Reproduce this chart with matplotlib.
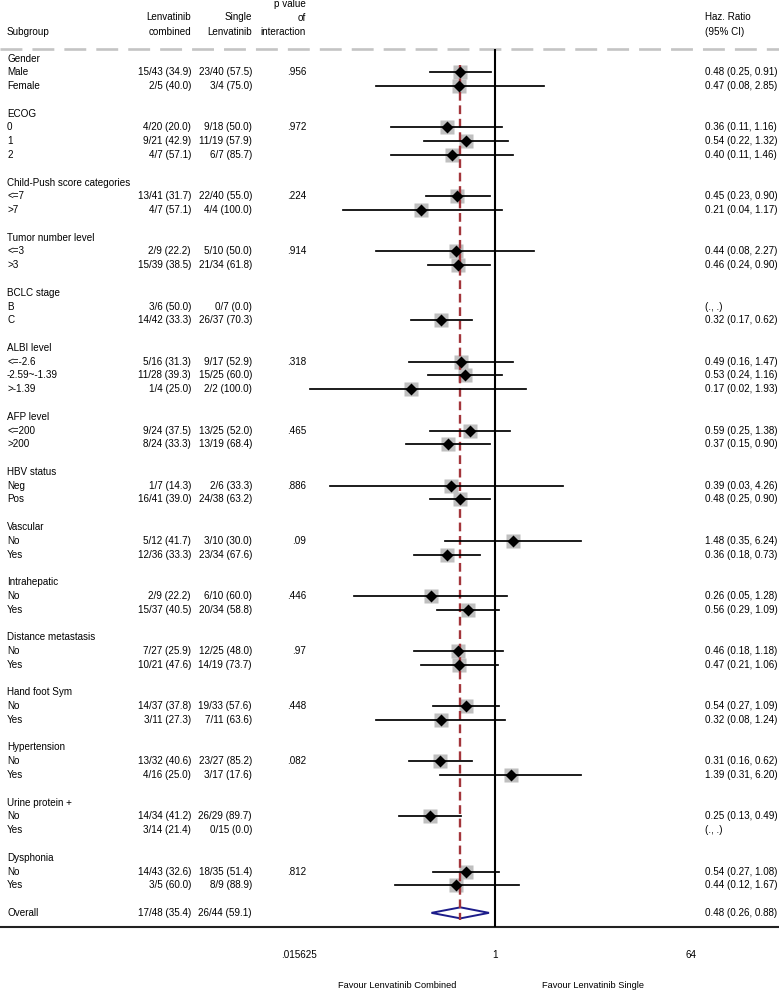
#!/usr/bin/env python3
# Forest plot: hazard ratios by subgroup, Lenvatinib combined vs single.

import matplotlib
matplotlib.use("Agg")
import matplotlib.pyplot as plt
from matplotlib.patches import Polygon
from matplotlib.transforms import blended_transform_factory

# --- Data ---
GROUP_NAMES = [
    "Gender", "ECOG", "Child-Push score categories", "Tumor number level",
    "BCLC stage", "ALBI level", "AFP level", "HBV status", "Vascular",
    "Intrahepatic", "Distance metastasis", "Hand foot Sym", "Hypertension",
    "Urine protein +", "Dysphonia",
]
GROUP_SIZES = [2, 3, 2, 2, 2, 3, 2, 2, 2, 2, 2, 2, 2, 2, 2]
GROUP_P = [".956", ".972", ".224", ".914", "", ".318", ".465", ".886", ".09",
           ".446", ".97", ".448", ".082", "", ".812"]

LABELS = ["Male", "Female", "0", "1", "2", "<=7", ">7", "<=3", ">3", "B", "C",
          "<=-2.6", "-2.59~-1.39", ">-1.39", "<=200", ">200", "Neg", "Pos",
          "No", "Yes", "No", "Yes", "No", "Yes", "No", "Yes", "No", "Yes",
          "No", "Yes", "No", "Yes"]
COMBINED = ["15/43 (34.9)", "2/5 (40.0)", "4/20 (20.0)", "9/21 (42.9)",
            "4/7 (57.1)", "13/41 (31.7)", "4/7 (57.1)", "2/9 (22.2)",
            "15/39 (38.5)", "3/6 (50.0)", "14/42 (33.3)", "5/16 (31.3)",
            "11/28 (39.3)", "1/4 (25.0)", "9/24 (37.5)", "8/24 (33.3)",
            "1/7 (14.3)", "16/41 (39.0)", "5/12 (41.7)", "12/36 (33.3)",
            "2/9 (22.2)", "15/37 (40.5)", "7/27 (25.9)", "10/21 (47.6)",
            "14/37 (37.8)", "3/11 (27.3)", "13/32 (40.6)", "4/16 (25.0)",
            "14/34 (41.2)", "3/14 (21.4)", "14/43 (32.6)", "3/5 (60.0)"]
SINGLE = ["23/40 (57.5)", "3/4 (75.0)", "9/18 (50.0)", "11/19 (57.9)",
          "6/7 (85.7)", "22/40 (55.0)", "4/4 (100.0)", "5/10 (50.0)",
          "21/34 (61.8)", "0/7 (0.0)", "26/37 (70.3)", "9/17 (52.9)",
          "15/25 (60.0)", "2/2 (100.0)", "13/25 (52.0)", "13/19 (68.4)",
          "2/6 (33.3)", "24/38 (63.2)", "3/10 (30.0)", "23/34 (67.6)",
          "6/10 (60.0)", "20/34 (58.8)", "12/25 (48.0)", "14/19 (73.7)",
          "19/33 (57.6)", "7/11 (63.6)", "23/27 (85.2)", "3/17 (17.6)",
          "26/29 (89.7)", "0/15 (0.0)", "18/35 (51.4)", "8/9 (88.9)"]
HR = [0.48, 0.47, 0.36, 0.54, 0.40, 0.45, 0.21, 0.44, 0.46, None, 0.32,
      0.49, 0.53, 0.17, 0.59, 0.37, 0.39, 0.48, 1.48, 0.36, 0.26, 0.56,
      0.46, 0.47, 0.54, 0.32, 0.31, 1.39, 0.25, None, 0.54, 0.44]
LO = [0.25, 0.08, 0.11, 0.22, 0.11, 0.23, 0.04, 0.08, 0.24, None, 0.17,
      0.16, 0.24, 0.02, 0.25, 0.15, 0.03, 0.25, 0.35, 0.18, 0.05, 0.29,
      0.18, 0.21, 0.27, 0.08, 0.16, 0.31, 0.13, None, 0.27, 0.12]
HI = [0.91, 2.85, 1.16, 1.32, 1.46, 0.90, 1.17, 2.27, 0.90, None, 0.62,
      1.47, 1.16, 1.93, 1.38, 0.90, 4.26, 0.90, 6.24, 0.73, 1.28, 1.09,
      1.18, 1.06, 1.09, 1.24, 0.62, 6.20, 0.49, None, 1.08, 1.67]

OVERALL_COMBINED = "17/48 (35.4)"
OVERALL_SINGLE = "26/44 (59.1)"
OVERALL_HR, OVERALL_LO, OVERALL_HI = 0.48, 0.26, 0.88

XTICKS = [0.015625, 1, 64]
XTICKLABELS = [".015625", "1", "64"]

# --- Layout (pixels of a 779x993 figure) ---
W, H = 779, 993
ROW0_PX, ROW_PX = 58.5, 13.78
TOP_PX, BOT_PX = 49, 927
PX_PER_LOG2 = 32.7
ONE_PX = 495

FONT = "Liberation Sans"
FS = 7.1
BOX_COLOR = "#bfbfbf"
RED = "#a3353b"
NAVY = "#1c1c8a"


def row_of(px):
    return (px - ROW0_PX) / ROW_PX


def main():
    plt.rcParams["font.family"] = FONT
    fig = plt.figure(figsize=(W / 100, H / 100), dpi=100)
    ax = fig.add_axes([0, 1 - BOT_PX / H, 1, (BOT_PX - TOP_PX) / H])
    ax.set_xscale("log", base=2)
    ax.set_xlim(2 ** (-ONE_PX / PX_PER_LOG2), 2 ** ((W - ONE_PX) / PX_PER_LOG2))
    y_top, y_bot = row_of(TOP_PX), row_of(BOT_PX)
    ax.set_ylim(y_bot, y_top)
    for s in ax.spines.values():
        s.set_visible(False)
    ax.set_yticks([])
    ax.set_xticks(XTICKS)
    ax.set_xticklabels(XTICKLABELS)
    ax.xaxis.set_minor_locator(plt.NullLocator())
    ax.tick_params(axis="x", length=0, pad=16.5, labelsize=FS)

    tx = blended_transform_factory(fig.transFigure, ax.transData)

    def col_text(px, row, s, ha):
        ax.text(px / W, row, s, transform=tx, ha=ha, va="center",
                fontsize=FS, clip_on=False)

    # header
    col_text(7, row_of(32), "Subgroup", "left")
    col_text(191, row_of(17.5), "Lenvatinib", "right")
    col_text(191, row_of(32), "combined", "right")
    col_text(252, row_of(17.5), "Single", "right")
    col_text(252, row_of(32), "Lenvatinib", "right")
    col_text(306, row_of(4), "p value", "right")
    col_text(306, row_of(18), "of", "right")
    col_text(306, row_of(32), "interaction", "right")
    col_text(705, row_of(17.5), "Haz. Ratio", "left")
    col_text(705, row_of(32), "(95% CI)", "left")

    # rows
    row = 0
    i = 0
    rows_y = []
    for name, n, p in zip(GROUP_NAMES, GROUP_SIZES, GROUP_P):
        col_text(7, row, name, "left")
        row += 1
        for k in range(n):
            rows_y.append(row)
            col_text(7, row, LABELS[i], "left")
            col_text(191, row, COMBINED[i], "right")
            col_text(252, row, SINGLE[i], "right")
            if k == 0 and p:
                col_text(306, row, p, "right")
            if HR[i] is None:
                col_text(705, row, "(., .)", "left")
            else:
                col_text(705, row, f"{HR[i]:.2f} ({LO[i]:.2f}, {HI[i]:.2f})", "left")
            row += 1
            i += 1
        row += 1
    overall_row = row

    col_text(7, overall_row, "Overall", "left")
    col_text(191, overall_row, OVERALL_COMBINED, "right")
    col_text(252, overall_row, OVERALL_SINGLE, "right")
    col_text(705, overall_row,
             f"{OVERALL_HR:.2f} ({OVERALL_LO:.2f}, {OVERALL_HI:.2f})", "left")

    # reference lines
    ax.axhline(y_top, color="#c4c4c4", lw=1.9, ls=(0, (8.3, 3.8)),
               clip_on=False, zorder=1)
    ax.axhline(y_bot, color="#222222", lw=1.5, clip_on=False, zorder=1)
    ax.axvline(1, color="black", lw=1.5, zorder=2)

    # boxes
    for y, hr in zip(rows_y, HR):
        if hr is not None:
            ax.plot(hr, y, marker="s", ms=9.6, color=BOX_COLOR, mec="none",
                    zorder=3)

    ax.plot([OVERALL_HR, OVERALL_HR], [0.5, overall_row + 0.5], color=RED,
            lw=1.7, ls=(0, (3.7, 2.0)), zorder=4)

    for y, hr, lo, hi in zip(rows_y, HR, LO, HI):
        if hr is None:
            continue
        ax.plot([lo, hi], [y, y], color="black", lw=1.25, zorder=5)
        ax.plot(hr, y, marker="D", ms=5.8, color="black", mec="none", zorder=6)

    diamond = Polygon([(OVERALL_LO, overall_row), (OVERALL_HR, overall_row - 0.4),
                       (OVERALL_HI, overall_row), (OVERALL_HR, overall_row + 0.4)],
                      closed=True, facecolor="white", edgecolor=NAVY, lw=1.4,
                      zorder=3)
    ax.add_patch(diamond)

    # favour labels at 1/8 and 8
    fav_y = ax.transAxes.inverted().transform(
        fig.transFigure.transform((0, 1 - 985 / H)))[1]
    ftx = blended_transform_factory(ax.transData, ax.transAxes)
    ax.text(0.125, fav_y, "Favour Lenvatinib Combined", transform=ftx,
            ha="center", va="center", fontsize=6.7, clip_on=False)
    ax.text(8, fav_y, "Favour Lenvatinib Single", transform=ftx,
            ha="center", va="center", fontsize=6.7, clip_on=False)

    fig.savefig("out.png", dpi=100)
    plt.close(fig)


if __name__ == "__main__":
    main()
